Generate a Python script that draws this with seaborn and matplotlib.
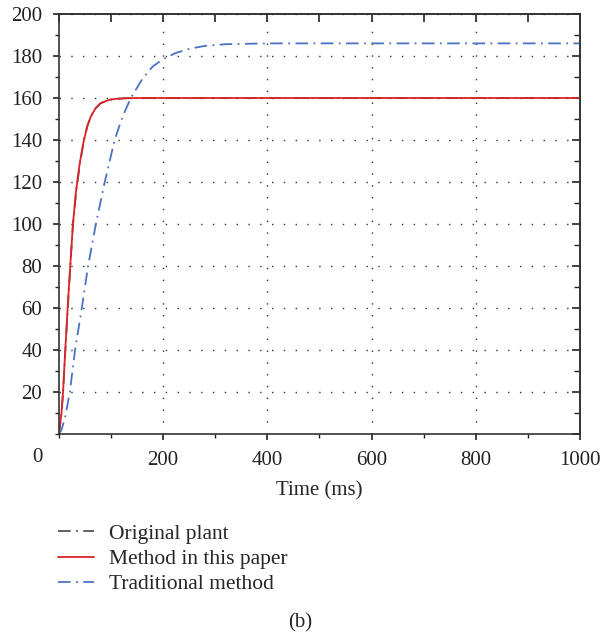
import numpy as np
import pandas as pd
import matplotlib
matplotlib.use("Agg")
import matplotlib.pyplot as plt
import seaborn as sns
from matplotlib.ticker import MultipleLocator, NullFormatter

# values
time_ms = [0, 5, 8, 12, 17, 22, 27, 33, 40, 48, 55, 61, 70, 80, 90, 98, 110, 130, 160, 200, 300, 500, 700, 1000]
original_plant = [0, 10, 20, 38, 60, 80, 100, 115, 128, 140, 147, 151, 155, 157.5, 158.5, 159.2, 159.6, 159.9, 160, 160, 160, 160, 160, 160]
method_paper = [0, 10, 20, 39, 61, 81, 100, 116, 129, 140, 147, 151, 155, 157.5, 158.5, 159.2, 159.6, 159.9, 160, 160, 160, 160, 160, 160]

time_trad = [0, 5, 12, 21, 31, 44, 56, 71, 88, 107, 122, 138, 160, 180, 200, 225, 252, 280, 320, 400, 600, 800, 1000]
traditional = [0, 2, 8, 20, 40, 60, 80, 100, 120, 140, 151, 160, 169, 175, 178.5, 181.5, 183.5, 184.8, 185.6, 186, 186, 186, 186]

df = pd.concat([
    pd.DataFrame({"t": time_ms, "y": original_plant, "series": "Original plant"}),
    pd.DataFrame({"t": time_ms, "y": method_paper, "series": "Method in this paper"}),
    pd.DataFrame({"t": time_trad, "y": traditional, "series": "Traditional method"}),
])

sns.set_style("ticks")
plt.rcParams["font.family"] = ["Liberation Serif", "DejaVu Serif"]
fs = 15

fig = plt.figure(figsize=(6.01, 6.35), dpi=100)
ax = fig.add_axes([0.098, 0.3165, 0.867, 0.6615])

palette = {"Original plant": "#555555", "Method in this paper": "#dc2329", "Traditional method": "#4a72c4"}
dashes = {"Original plant": (7, 3, 1, 3), "Method in this paper": "", "Traditional method": (7, 3, 1, 3)}
sns.lineplot(data=df, x="t", y="y", hue="series", style="series", palette=palette,
             dashes=dashes, linewidth=1.3, ax=ax, sort=False, estimator=None, legend=True)

ax.set_xlim(0, 1000)
ax.set_ylim(0, 200)
ax.xaxis.set_minor_locator(MultipleLocator(100))
ax.yaxis.set_minor_locator(MultipleLocator(10))
ax.set_xticks([200, 400, 600, 800, 1000])
ax.set_yticks(range(20, 201, 20))
ax.tick_params(which="both", direction="out", labelsize=fs, colors="#222222")
ax.tick_params(which="major", length=4.5, width=1.2, pad=7.5)
ax.tick_params(which="minor", length=3, width=1)
for s in ax.spines.values():
    s.set_linewidth(1.2)
    s.set_color("#333333")
ax.grid(True, which="major", color="#333333", linestyle=(0, (1, 7.5)), linewidth=1)

# inward ticks on the top and right sides
top = ax.secondary_xaxis("top")
top.set_xticks(range(0, 1001, 100))
top.xaxis.set_major_formatter(NullFormatter())
right = ax.secondary_yaxis("right")
right.set_yticks(range(0, 201, 20))
right.yaxis.set_minor_locator(MultipleLocator(10))
right.yaxis.set_major_formatter(NullFormatter())
for sec in (top, right):
    sec.tick_params(which="both", direction="in", colors="#222222")
    sec.tick_params(which="major", length=6, width=1.2)
    sec.tick_params(which="minor", length=4, width=1)
    for s in sec.spines.values():
        s.set_linewidth(1.2)
        s.set_color("#333333")

ax.text(-0.042, -0.055, "0", transform=ax.transAxes, ha="center", va="center", fontsize=fs, color="#222222")
ax.set_xlabel("Time (ms)", fontsize=fs, labelpad=8)
ax.set_ylabel("")

handles, labels = ax.get_legend_handles_labels()
ax.legend(handles, labels, loc="upper left", bbox_to_anchor=(-0.022, -0.188), frameon=False, borderpad=0,
          fontsize=15.5, handlelength=1.65, handletextpad=0.7, labelspacing=0.24)

fig.text(0.5, 0.019, "(b)", ha="center", va="center", fontsize=fs)

fig.savefig("out.png", dpi=100)
